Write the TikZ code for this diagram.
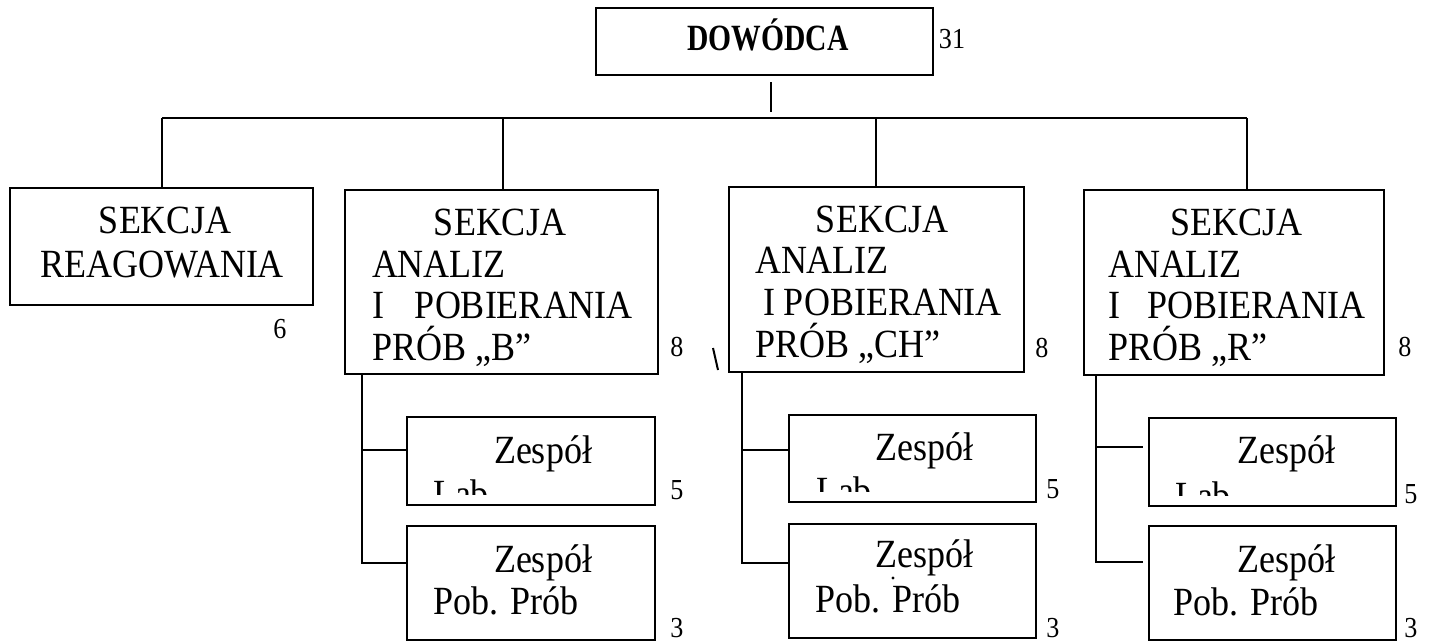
\documentclass[tikz,border=0pt]{standalone}
\usepackage{fontspec}
\setmainfont{Liberation Serif}
\newfontfamily\secfam[FakeStretch=0.9]{Liberation Serif}
\newfontfamily\dowfam[FakeStretch=0.8]{Liberation Serif}
\newcommand\secfont{\secfam\fontsize{40}{46}\selectfont}
\newcommand\numfont{\secfam\fontsize{29}{32}\selectfont}
\newcommand\dowfont{\dowfam\bfseries\fontsize{37}{40}\selectfont}
\begin{document}
\begin{tikzpicture}[x=1pt,y=-1pt,
  box/.style={draw, rectangle, line width=1.8pt, inner sep=0pt, outer sep=0pt},
  ln/.style={line width=1.6pt},
  txt/.style={inner sep=0pt, outer sep=0pt, font=\secfont},
  tl/.style={txt, anchor=base west},
  tc/.style={txt, anchor=base},
  num/.style={inner sep=0pt, outer sep=0pt, font=\numfont, anchor=base}]
\useasboundingbox (0,0) rectangle (1431,643);

% top box
\node[box, minimum width=337pt, minimum height=67pt] (dow) at (764.5,41.5) {};
\node[inner sep=0pt, font=\dowfont, anchor=base] (dowt) at (768,50) {DOWÓDCA};
\node[num] (n31) at (952,48) {31};

% sections
\node[box, minimum width=303pt, minimum height=117pt] (reag) at (161.5,246.5) {};
\node[box, minimum width=313pt, minimum height=184pt] (secB) at (501.5,282) {};
\node[box, minimum width=295pt, minimum height=185pt] (secCH) at (876.5,279.5) {};
\node[box, minimum width=300pt, minimum height=185pt] (secR) at (1234,282.5) {};

% sub boxes
\node[box, minimum width=248pt, minimum height=88pt] (labB) at (531,461) {};
\node[box, minimum width=248pt, minimum height=114pt] (pobB) at (531,583) {};
\node[box, minimum width=247pt, minimum height=87pt] (labCH) at (912.5,458.5) {};
\node[box, minimum width=247pt, minimum height=114pt] (pobCH) at (912.5,581) {};
\node[box, minimum width=247pt, minimum height=88pt] (labR) at (1272.5,462) {};
\node[box, minimum width=247pt, minimum height=114pt] (pobR) at (1272.5,583) {};

% texts: reagowania
\node[tc] (reag1) at (165,233) {SEKCJA};
\node[tc] (reag2) at (162,277) {REAGOWANIA};
\node[num] (n6) at (280,338) {6};

% texts: B
\node[tc] (b1) at (500,235) {SEKCJA};
\node[tl] (b2) at (372,277) {ANALIZ};
\node[tl] (b3) at (372,318) {I\hspace*{31pt}POBIERANIA};
\node[tl] (b4) at (372,360) {PRÓB „B”};
\node[num] (n8b) at (677,356) {8};

% texts: CH
\node[tc] (c1) at (882,232) {SEKCJA};
\node[tl] (c2) at (755,273) {ANALIZ};
\node[tl] (c3) at (763,315) {I POBIERANIA};
\node[tl] (c4) at (755,357) {PRÓB „CH”};
\node[num] (n8c) at (1042,357) {8};

% texts: R
\node[tc] (r1) at (1236,235) {SEKCJA};
\node[tl] (r2) at (1108,277) {ANALIZ};
\node[tl] (r3) at (1108,318) {I\hspace*{28pt}POBIERANIA};
\node[tl] (r4) at (1108,360) {PRÓB „R”};
\node[num] (n8r) at (1405,356) {8};

% sub texts B
\node[tc] (lb1) at (543,463) {Zespół};
\begin{scope}\clip (408,470) rectangle (654,494);
\node[tl] (lb2) at (433,507) {Lab};
\end{scope}
\node[num] (n5b) at (677,499) {5};
\node[tc] (pb1) at (543,572) {Zespół};
\node[tl] (pb2) at (433,614) {Pob. Prób};
\node[num] (n3b) at (677,637) {3};

% sub texts CH
\node[tc] (lc1) at (924,460) {Zespół};
\begin{scope}\clip (790,468) rectangle (1035,491);
\node[tl] (lc2) at (816,504) {Lab};
\end{scope}
\node[num] (n5c) at (1053,498) {5};
\node[tc] (pc1) at (924,567) {Zespół};
\node[tl] (pc2) at (815,612) {Pob. Prób};
\node[num] (n3c) at (1053,637) {3};

% sub texts R
\node[tc] (lr1) at (1286,463) {Zespół};
\begin{scope}\clip (1150,472) rectangle (1395,495);
\node[tl] (lr2) at (1175,509) {Lab};
\end{scope}
\node[num] (n5r) at (1411,503) {5};
\node[tc] (pr1) at (1286,572) {Zespół};
\node[tl] (pr2) at (1173,615) {Pob. Prób};
\node[num] (n3r) at (1411,637) {3};

% connectors
\coordinate (tickA) at (771,82);
\coordinate (tickB) at (771,112);
\draw[ln] (tickA) -- (tickB);
\coordinate (busL) at (162,118);
\coordinate (busB) at (503,118);
\coordinate (busC) at (876,118);
\coordinate (busR) at (1247,118);
\draw[ln] (busL) -- (busR);
\draw[ln] (busL) -- (busL |- reag.north);
\draw[ln] (busB) -- (busB |- secB.north);
\draw[ln] (busC) -- (busC |- secCH.north);
\draw[ln] (busR) -- (busR |- secR.north);

% B sub connectors
\coordinate (vB) at (362,0);
\coordinate (jB1) at (362,450);
\coordinate (jB2) at (362,563);
\draw[ln] (vB |- secB.south) -- (jB2) -- (jB2 -| pobB.west);
\draw[ln] (jB1) -- (jB1 -| labB.west);

% CH sub connectors
\coordinate (vC) at (742,0);
\coordinate (jC1) at (742,450);
\coordinate (jC2) at (742,563);
\draw[ln] (vC |- secCH.south) -- (jC2) -- (jC2 -| pobCH.west);
\draw[ln] (jC1) -- (jC1 -| labCH.west);

% R sub connectors
\coordinate (vR) at (1096,0);
\coordinate (jR1) at (1096,447);
\coordinate (jR2) at (1096,562);
\coordinate (eR1) at (1143,447);
\coordinate (eR2) at (1143,562);
\draw[ln] (vR |- secR.south) -- (jR2) -- (eR2);
\draw[ln] (jR1) -- (eR1);

% scan marks
\coordinate (bsA) at (713,348);
\coordinate (bsB) at (718,370);
\draw[line width=2pt] (bsA) -- (bsB);
\fill (893,578) circle (1.6pt);
\end{tikzpicture}
\end{document}
